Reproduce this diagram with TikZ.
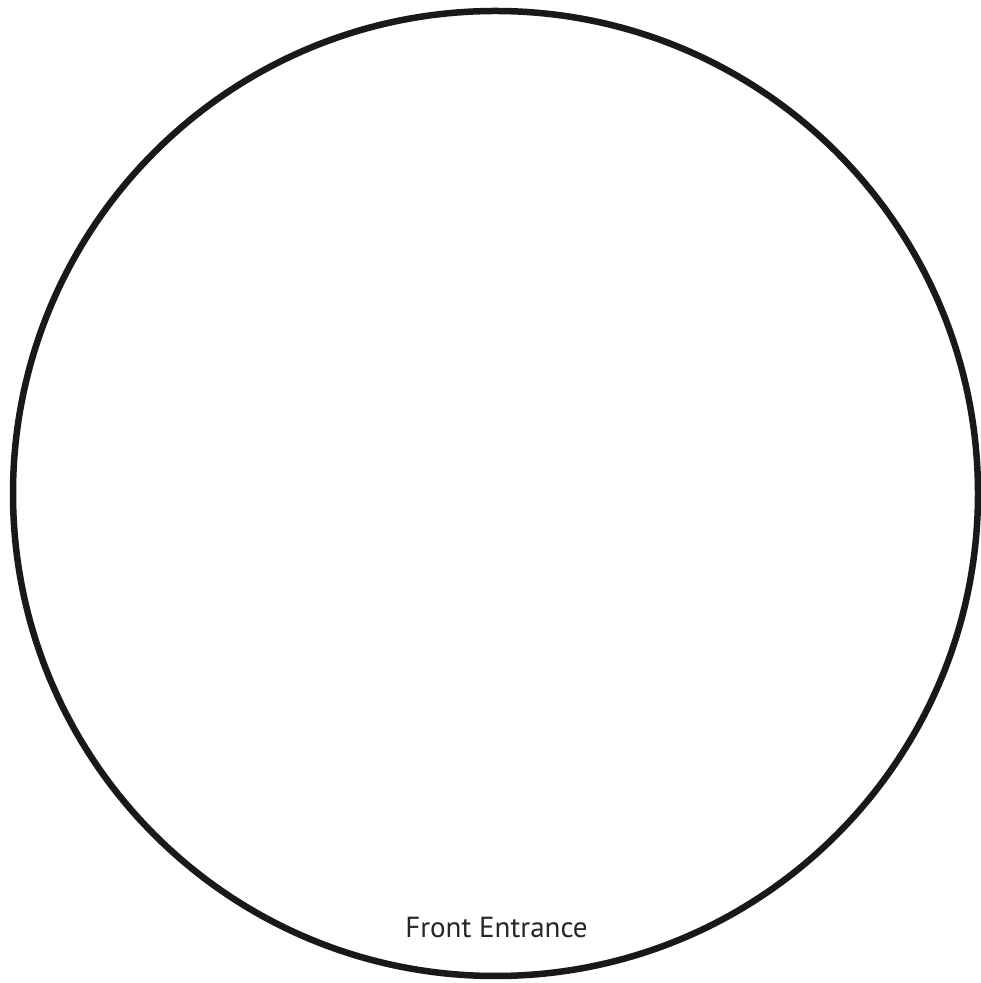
\documentclass[tikz,border=0pt]{standalone}
\usepackage{fontspec}
\setmainfont{PT Sans}
\begin{document}
\begin{tikzpicture}[x=1pt,y=1pt,
  ring/.style={draw=black!90, line width=6.5pt},
  label/.style={font=\fontsize{29}{34}\selectfont, text=black!85, inner sep=0pt}]
\useasboundingbox (0,0) rectangle (981,983);
\fill[white] (0,0) rectangle (981,983);
\node[circle, ring, minimum size=965pt, inner sep=0pt] (room) at (495.5,489.5) {};
\node[label, anchor=base] (entrance) at (496.5,45) {Front Entrance};
\end{tikzpicture}
\end{document}
